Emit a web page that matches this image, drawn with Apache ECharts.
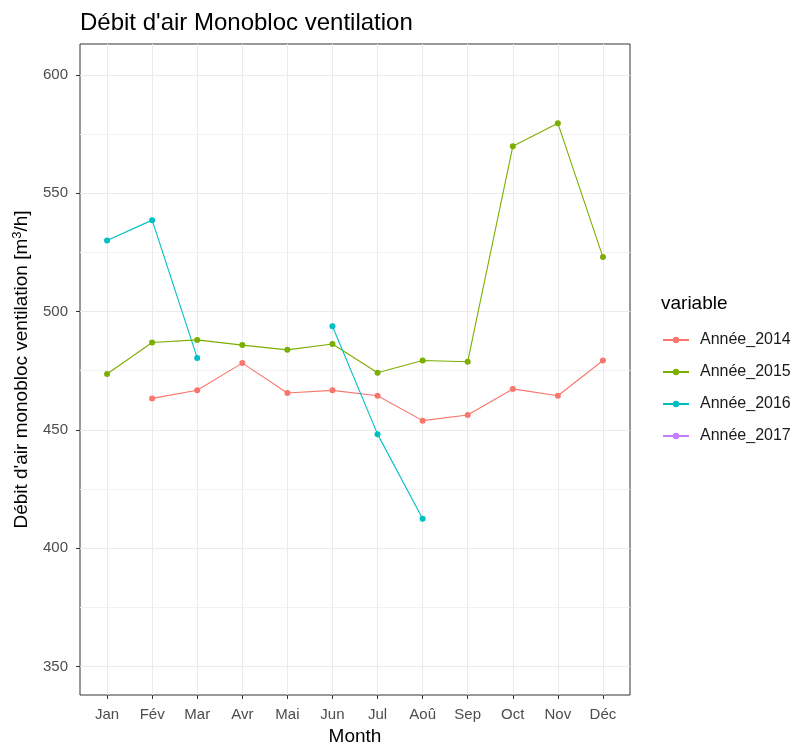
<!DOCTYPE html>
<html lang="fr">
<head>
    <meta charset="UTF-8">
    <title>Débit d'air Monobloc ventilation</title>
    <script src="https://cdn.jsdelivr.net/npm/echarts@6/dist/echarts.min.js"></script>
    <style>
        * { margin: 0; padding: 0; }
        #main { width: 798px; height: 743px; }
    </style>
</head>
<body>
<div id="main"></div>
<script>
    // mois (axe x)
    var months = ['Jan', 'Fév', 'Mar', 'Avr', 'Mai', 'Jun', 'Jul', 'Aoû', 'Sep', 'Oct', 'Nov', 'Déc'];
    // débit par année
    var annee2014 = [null, 463.3, 466.7, 478.2, 465.6, 466.7, 464.4, 453.9, 456.3, 467.3, 464.4, 479.3];
    var annee2015 = [473.6, 486.9, 488.0, 485.8, 483.8, 486.3, 474.1, 479.3, 478.8, 569.8, 579.5, 523.0];
    var annee2016 = [530.0, 538.6, 480.4, null, null, 493.8, 448.2, 412.5, null, null, null, null];
    var annee2017 = [null, null, null, null, null, null, null, null, null, null, null, null];
    var yTicks = [350, 400, 450, 500, 550, 600];
    var yMinor = [375, 425, 475, 525, 575];
    var xTicks = [1, 2, 3, 4, 5, 6, 7, 8, 9, 10, 11, 12];

    var font = 'Liberation Sans, Arial, sans-serif';

    function pts(arr) {
        return arr.map(function (v, i) { return [i + 1, v]; });
    }

    function serie(name, color, arr) {
        return {
            name: name,
            type: 'line',
            data: pts(arr),
            symbol: 'circle',
            symbolSize: 6,
            showSymbol: true,
            connectNulls: false,
            lineStyle: { width: 1.1, color: color },
            itemStyle: { color: color },
            emphasis: { disabled: true }
        };
    }

    var chart = echarts.init(document.getElementById('main'));

    var option = {
        animation: false,
        textStyle: { fontFamily: font },
        title: [
            {
                text: "Débit d'air Monobloc ventilation",
                left: 75,
                top: 6,
                textStyle: { fontSize: 24, fontWeight: 'normal', color: '#000', fontFamily: font }
            },
            {
                text: 'variable',
                left: 656,
                top: 289,
                textStyle: { fontSize: 19, fontWeight: 'normal', color: '#000', fontFamily: font }
            }
        ],
        legend: {
            orient: 'vertical',
            left: 657,
            top: 327,
            itemWidth: 26,
            itemHeight: 8,
            itemGap: 16,
            textStyle: { fontSize: 16, color: '#1a1a1a', fontFamily: font, padding: [0, 0, 0, 6] },
            data: ['Année_2014', 'Année_2015', 'Année_2016', 'Année_2017']
        },
        grid: {
            left: 80,
            right: 168,
            top: 44,
            bottom: 48,
            show: true,
            borderColor: '#333',
            borderWidth: 1,
            containLabel: false,
            outerBoundsMode: 'none'
        },
        xAxis: {
            type: 'value',
            min: 0.4,
            max: 12.6,
            name: 'Month',
            nameLocation: 'middle',
            nameGap: 30,
            nameTextStyle: { fontSize: 19, color: '#000', fontFamily: font },
            axisLine: { show: false },
            axisTick: { show: true, length: 4, inside: false, lineStyle: { color: '#333' }, customValues: xTicks },
            axisLabel: {
                fontSize: 15, color: '#4d4d4d', margin: 12.5, fontFamily: font,
                customValues: xTicks,
                formatter: function (v) { return months[Math.round(v) - 1]; }
            },
            splitLine: { show: true, lineStyle: { color: '#ebebeb', width: 1 } }
        },
        yAxis: [
            {
                type: 'value',
                min: 338,
                max: 613,
                name: '{a|Débit d\'air monobloc ventilation [m}{s|3}{a|/h]}',
                nameLocation: 'middle',
                nameGap: 47,
                nameTextStyle: {
                    fontSize: 19, color: '#000', fontFamily: font,
                    rich: {
                        a: { fontSize: 19, color: '#000', fontFamily: font },
                        s: { fontSize: 13, color: '#000', fontFamily: font, padding: [0, 0, 9, 0] }
                    }
                },
                axisLine: { show: false },
                axisTick: { show: true, length: 4, lineStyle: { color: '#333' }, customValues: yTicks },
                axisLabel: { fontSize: 15, color: '#4d4d4d', margin: 12, fontFamily: font, customValues: yTicks },
                splitLine: { show: true, lineStyle: { color: '#ebebeb', width: 1 } }
            },
            {
                type: 'value',
                min: 338,
                max: 613,
                position: 'left',
                axisLine: { show: false },
                axisTick: { show: false, customValues: yMinor },
                axisLabel: { show: false, customValues: yMinor },
                splitLine: { show: true, lineStyle: { color: '#f2f2f2', width: 1 } }
            }
        ],
        series: [
            serie('Année_2014', '#F8766D', annee2014),
            serie('Année_2015', '#7CAE00', annee2015),
            serie('Année_2016', '#00BFC4', annee2016),
            serie('Année_2017', '#C77CFF', annee2017)
        ]
    };

    chart.setOption(option);
</script>
</body>
</html>
